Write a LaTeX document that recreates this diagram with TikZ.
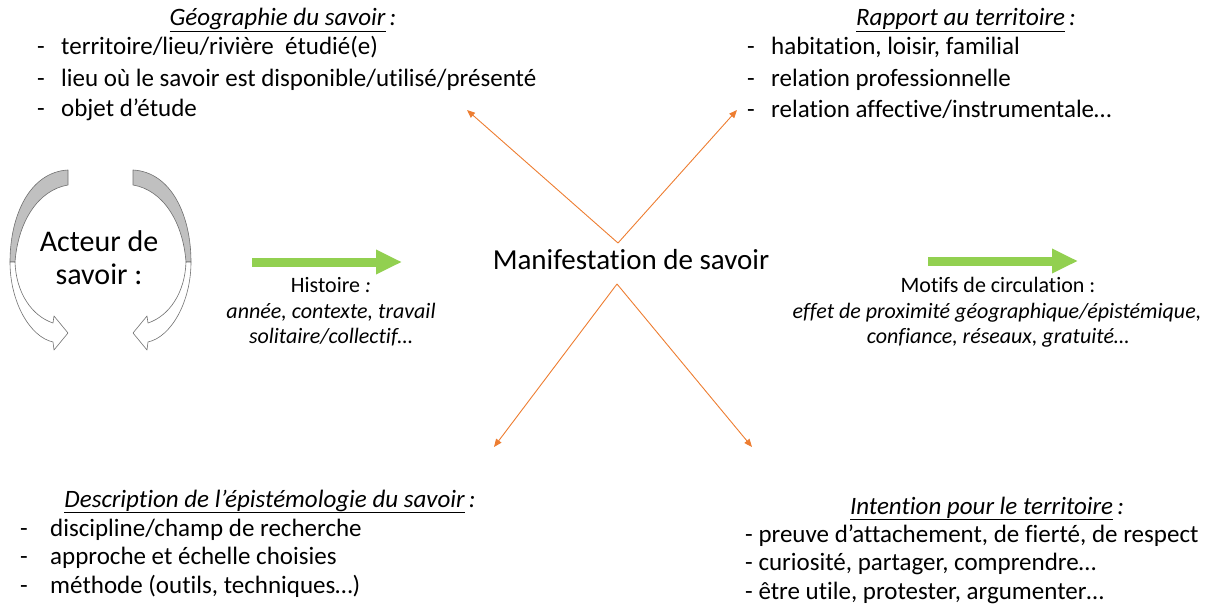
\documentclass[tikz,border=0pt]{standalone}
\usepackage{fontspec}
\setmainfont{Carlito}[Ligatures=NoCommon]
\usetikzlibrary{arrows.meta}
\definecolor{grn}{HTML}{92D050}
\definecolor{org}{HTML}{ED7D31}
\definecolor{gfill}{HTML}{C0C0C0}
\definecolor{gline}{HTML}{707070}
\tikzset{
  body/.style={font=\fontsize{25}{30}\selectfont, inner sep=0pt, text height=18pt, text depth=6pt},
  mid/.style={font=\fontsize{22}{26}\selectfont, inner sep=0pt, text height=16pt, text depth=5.5pt},
  ttl/.style={body, anchor=center},
  item/.style={body, anchor=west},
  orangearrow/.style={draw=org, line width=0.9pt, -{Triangle[length=8pt,width=6.5pt]}},
  greenarrow/.style={draw=grn, line width=9pt, -{Triangle[length=26pt,width=23pt]}},
  curlgray/.style={fill=gfill, draw=gline, line width=0.6pt, line join=round},
  curlwhite/.style={fill=white, draw=gline, line width=0.6pt, line join=round},
}
\newcommand{\dashitem}[2][24pt]{\makebox[#1][l]{-}#2}
\begin{document}
\begin{tikzpicture}[x=1pt,y=-1pt]
\useasboundingbox (0,0) rectangle (1215,610);

% ---------- curved arrows around "Acteur de savoir"
\foreach \sx/\sh in {1/0, -1/201}{
\begin{scope}[xshift=\sh pt, xscale=\sx]
  \path[curlgray] (68,170) .. controls (30,172) and (10,215) .. (10,262)
     -- (15,262) .. controls (18,222) and (38,190) .. (68,185) -- cycle;
  \path[curlwhite] (10,262) .. controls (10,302) and (30,337) .. (53,342)
     -- (54,350) -- (68,333) -- (54,316) -- (53,323)
     .. controls (32,316) and (16,293) .. (15,262) -- cycle;
\end{scope}}
\node[font=\fontsize{30}{33}\selectfont, align=center, inner sep=0pt] (acteur) at (99,258) {Acteur de\\savoir :};

% ---------- centre
\node[font=\fontsize{29}{33}\selectfont, inner sep=0pt, text height=21pt, text depth=7pt] (msv) at (631,262) {Manifestation de savoir};
\coordinate (apT) at (618,243);
\coordinate (apB) at (617,284);
\coordinate (eTL) at (467,110);
\coordinate (eTR) at (737,110);
\coordinate (eBL) at (494,447);
\coordinate (eBR) at (752,447);
\draw[orangearrow] (apT) -- (eTL);
\draw[orangearrow] (apT) -- (eTR);
\draw[orangearrow] (apB) -- (eBL);
\draw[orangearrow] (apB) -- (eBR);

% ---------- green arrows
\coordinate (g1s) at (252,262);
\coordinate (g1e) at (402,262);
\coordinate (g2s) at (928,261);
\coordinate (g2e) at (1078,261);
\draw[greenarrow] (g1s) -- (g1e);
\draw[greenarrow] (g2s) -- (g2e);

% ---------- Histoire
\node[mid] (hist1) at (331,287) {Histoire\textit{ :}};
\node[mid] (hist2) at (331,313) {\textit{année, contexte, travail}};
\node[mid] (hist3) at (331,338) {\textit{solitaire/collectif…}};

% ---------- Motifs
\node[mid] (mot1) at (998,287) {Motifs de circulation :};
\node[mid] (mot2) at (997,313) {\textit{effet de proximité géographique/épistémique,}};
\node[mid] (mot3) at (998,338) {\textit{confiance, réseaux, gratuité…}};

% ---------- top left
\node[ttl] (geoT) at (283,20) {\textit{\underline{Géographie du savoir}\,:}};
\node[item] (geo1) at (37,49) {\dashitem{territoire/lieu/rivière~ étudié(e)}};
\node[item] (geo2) at (37,80) {\dashitem{lieu où le savoir est disponible/utilisé/présenté}};
\node[item] (geo3) at (37,110) {\dashitem{objet d’étude}};

% ---------- top right
\node[ttl] (rapT) at (966,20) {\textit{\underline{Rapport au territoire}\,:}};
\node[item] (rap1) at (747,49) {\dashitem{habitation, loisir, familial}};
\node[item] (rap2) at (747,80) {\dashitem{relation professionnelle}};
\node[item] (rap3) at (747,111) {\dashitem{relation affective/instrumentale…}};

% ---------- bottom left
\node[ttl] (desT) at (270,501) {\textit{\underline{Description de l’épistémologie du savoir}\,:}};
\node[item] (des1) at (20,530) {\dashitem[30pt]{discipline/champ de recherche}};
\node[item] (des2) at (20,558) {\dashitem[30pt]{approche et échelle choisies}};
\node[item] (des3) at (20,587) {\dashitem[30pt]{méthode (outils, techniques…)}};

% ---------- bottom right
\node[ttl] (intT) at (987,508) {\textit{\underline{Intention pour le territoire}\,:}};
\node[item] (int1) at (745,536) {- preuve d’attachement, de fierté, de respect};
\node[item] (int2) at (745,564) {- curiosité, partager, comprendre…};
\node[item] (int3) at (745,593) {- être utile, protester, argumenter…};
\end{tikzpicture}
\end{document}
